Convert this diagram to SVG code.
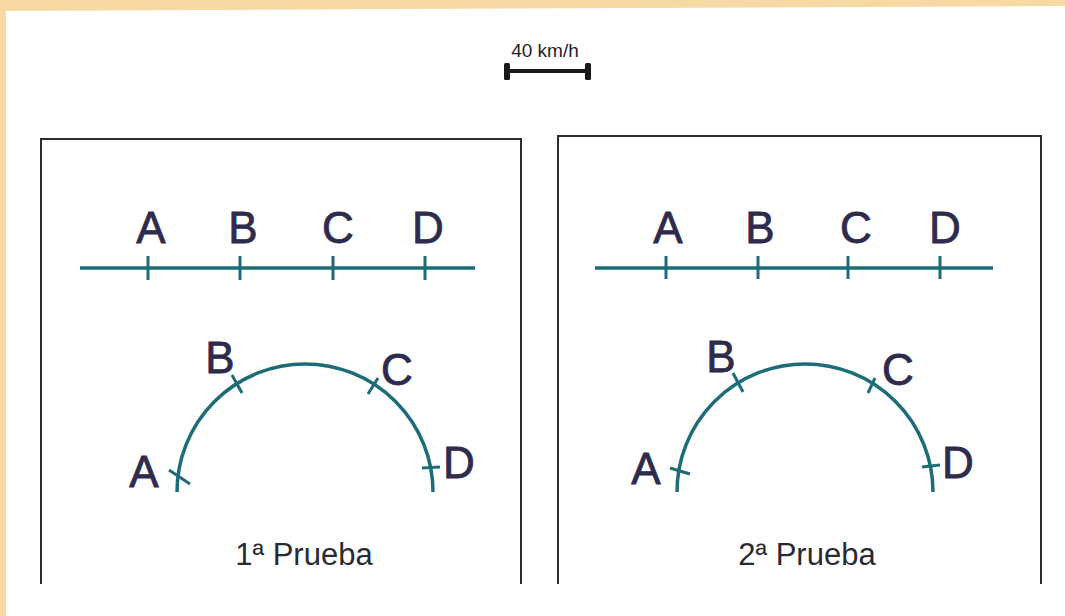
<svg xmlns="http://www.w3.org/2000/svg" width="1065" height="616" viewBox="0 0 1065 616">
  <style>
    .bg-band { fill: #f7d9a3; }
    .box { fill: none; stroke: #2b2b36; stroke-width: 2; }
    .track { fill: none; stroke: #1d6c77; stroke-width: 3.5; stroke-linecap: butt; }
    .tick { fill: none; stroke: #1d6c77; stroke-width: 3; }
    .lbl { font-family: "Liberation Sans", "DejaVu Sans", sans-serif; font-size: 44px; fill: #2f2b4d; stroke: #2f2b4d; stroke-width: 0.8; text-anchor: middle; }
    .title { font-family: "Liberation Sans", Arial, sans-serif; font-size: 31px; fill: #2a2a35; text-anchor: middle; }
    .scale-txt { font-family: "Liberation Sans", Arial, sans-serif; font-size: 19px; fill: #1e1e28; text-anchor: middle; }
  </style>
  <rect x="0" y="0" width="1065" height="616" fill="#ffffff"/>
  <polygon class="bg-band" points="0,0 1065,0 1065,6 0,11"/>
  <rect class="bg-band" x="0" y="0" width="6" height="616"/>

  <g id="scale">
    <text class="scale-txt" x="545" y="57">40 km/h</text>
    <line x1="507" y1="71" x2="588" y2="71" stroke="#1a1a1a" stroke-width="4"/>
    <rect x="504" y="63" width="6" height="17" rx="1.5" fill="#1a1a1a"/>
    <rect x="585" y="63" width="6" height="17" rx="1.5" fill="#1a1a1a"/>
  </g>

  <g id="panel1">
    <path class="box" d="M41,584 V139 H521 V584"/>
    <g id="p1-straight">
      <line class="track" x1="80" y1="268" x2="475" y2="268"/>
      <line class="tick" x1="148" y1="256" x2="148" y2="280"/>
      <line class="tick" x1="240" y1="256" x2="240" y2="280"/>
      <line class="tick" x1="333" y1="256" x2="333" y2="280"/>
      <line class="tick" x1="425" y1="256" x2="425" y2="280"/>
      <text class="lbl" x="151" y="243">A</text>
      <text class="lbl" x="243" y="243">B</text>
      <text class="lbl" x="338" y="243">C</text>
      <text class="lbl" x="428" y="243">D</text>
    </g>
    <g id="p1-curve">
      <path class="track" d="M177,492 A128,128 0 0 1 433,492"/>
      <line class="tick" x1="169" y1="470" x2="190" y2="484"/>
      <line class="tick" x1="232" y1="375" x2="242" y2="393"/>
      <line class="tick" x1="378" y1="378" x2="368" y2="394"/>
      <line class="tick" x1="422" y1="468" x2="440" y2="467"/>
      <text class="lbl" x="144" y="487">A</text>
      <text class="lbl" x="220" y="373">B</text>
      <text class="lbl" x="397" y="385">C</text>
      <text class="lbl" x="459" y="478">D</text>
    </g>
    <text class="title" x="304" y="565">1ª Prueba</text>
  </g>

  <g id="panel2">
    <path class="box" d="M558,584 V136 H1041 V584"/>
    <g id="p2-straight">
      <line class="track" x1="595" y1="268" x2="993" y2="268"/>
      <line class="tick" x1="666" y1="256" x2="666" y2="279"/>
      <line class="tick" x1="758" y1="256" x2="758" y2="279"/>
      <line class="tick" x1="848" y1="256" x2="848" y2="279"/>
      <line class="tick" x1="940" y1="256" x2="940" y2="279"/>
      <text class="lbl" x="668" y="243">A</text>
      <text class="lbl" x="760" y="243">B</text>
      <text class="lbl" x="856" y="243">C</text>
      <text class="lbl" x="945" y="243">D</text>
    </g>
    <g id="p2-curve">
      <path class="track" d="M677,492 A128,128 0 0 1 933,492"/>
      <line class="tick" x1="670" y1="468" x2="690" y2="474"/>
      <line class="tick" x1="733" y1="373" x2="743" y2="392"/>
      <line class="tick" x1="875" y1="378" x2="868" y2="393"/>
      <line class="tick" x1="922" y1="467" x2="940" y2="465"/>
      <text class="lbl" x="646" y="484">A</text>
      <text class="lbl" x="721" y="372">B</text>
      <text class="lbl" x="898" y="385">C</text>
      <text class="lbl" x="958" y="478">D</text>
    </g>
    <text class="title" x="807" y="565">2ª Prueba</text>
  </g>
</svg>
